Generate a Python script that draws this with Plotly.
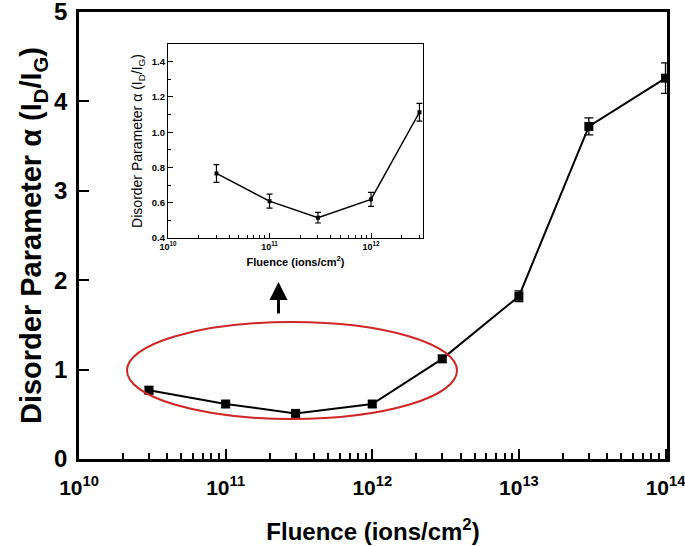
import plotly.graph_objects as go

# ---- data ----
fluence = [3e10, 1e11, 3e11, 1e12, 3e12, 1e13, 3e13, 1e14]
alpha = [0.77, 0.615, 0.51, 0.615, 1.12, 1.82, 3.72, 4.26]
alpha_err = [0.04, 0.035, 0.03, 0.035, 0.04, 0.06, 0.095, 0.17]

inset_fluence = [3e10, 1e11, 3e11, 1e12, 3e12]
inset_alpha = [0.766, 0.609, 0.515, 0.619, 1.113]
inset_err = [0.05, 0.04, 0.03, 0.04, 0.05]

main_xticks = [1e10, 1e11, 1e12, 1e13, 1e14]
main_xticktext = ["10<sup>10</sup>", "10<sup>11</sup>", "10<sup>12</sup>", "10<sup>13</sup>", "10<sup>14</sup>"]
main_yticks = [0, 1, 2, 3, 4, 5]
inset_xticks = [1e10, 1e11, 1e12]
inset_xticktext = ["10<sup>10</sup>", "10<sup>11</sup>", "10<sup>12</sup>"]
inset_yticks = [0.4, 0.6, 0.8, 1.0, 1.2, 1.4]
inset_yticktext = ["0.4", "0.6", "0.8", "1.0", "1.2", "1.4"]
inset_yminor = [0.5, 0.7, 0.9, 1.1, 1.3]

minor_main = [k * 10 ** e for e in range(10, 14) for k in range(2, 10)]
minor_inset = [k * 10 ** e for e in range(10, 13) for k in range(2, 10) if k * 10 ** e < 3.3e12]

FONT = "Liberation Sans"

fig = go.Figure()

fig.add_trace(go.Scatter(
    x=fluence, y=alpha, mode="lines+markers",
    line=dict(color="black", width=2),
    marker=dict(symbol="square", size=9, color="black"),
    error_y=dict(type="data", array=alpha_err, visible=True, color="black", thickness=1.3, width=4.5),
    cliponaxis=False, showlegend=False,
))

fig.add_trace(go.Scatter(
    x=inset_fluence, y=inset_alpha, mode="lines+markers",
    xaxis="x2", yaxis="y2",
    line=dict(color="black", width=1.5),
    marker=dict(symbol="square", size=4, color="black"),
    error_y=dict(type="data", array=inset_err, visible=True, color="black", thickness=1.2, width=3),
    cliponaxis=False, showlegend=False,
))

fig.update_layout(
    width=685, height=546,
    margin=dict(l=79, r=18, t=12, b=87),
    paper_bgcolor="white", plot_bgcolor="white",
    font=dict(family=FONT, color="black"),
    xaxis=dict(
        type="log", range=[10, 14.01], automargin=False, ticklabeloverflow="allow",
        tickvals=main_xticks, ticktext=main_xticktext, ticklabelstandoff=8,
        ticks="inside", ticklen=10, tickwidth=2, tickcolor="black",
        minor=dict(tickvals=minor_main, ticks="inside", ticklen=6, tickwidth=1.5, tickcolor="black"),
        showline=True, linecolor="black", linewidth=2.5, mirror=True,
        showgrid=False, zeroline=False,
        tickfont=dict(size=21, family=FONT, weight="bold"),
        title=dict(text="Fluence (ions/cm<sup>2</sup>)", font=dict(size=24, family=FONT, weight="bold"), standoff=26),
    ),
    yaxis=dict(
        range=[0, 5], tickvals=main_yticks, automargin=False, ticklabeloverflow="allow",
        ticklabelstandoff=4,
        ticks="inside", ticklen=10, tickwidth=2, tickcolor="black",
        showline=True, linecolor="black", linewidth=2.5, mirror=True,
        showgrid=False, zeroline=False,
        tickfont=dict(size=24, family=FONT, weight="bold"),
        title=dict(text="Disorder Parameter α (I<sub>D</sub>/I<sub>G</sub>)", font=dict(size=29, family=FONT, weight="bold"), standoff=4),
    ),
    xaxis2=dict(
        type="log", range=[10, 12.512], domain=[0.1514, 0.585], anchor="y2", automargin=False,
        tickvals=inset_xticks, ticktext=inset_xticktext,
        ticks="inside", ticklen=5, tickwidth=1, tickcolor="black",
        minor=dict(tickvals=minor_inset, ticks="inside", ticklen=3, tickwidth=1, tickcolor="black"),
        showline=True, linecolor="black", linewidth=1.2, mirror=True,
        showgrid=False, zeroline=False,
        tickfont=dict(size=9, family=FONT, weight="bold"),
        title=dict(text="Fluence (ions/cm<sup>2</sup>)", font=dict(size=11, family=FONT, weight="bold"), standoff=7),
    ),
    yaxis2=dict(
        range=[0.4, 1.5], domain=[0.4944, 0.9284], anchor="x2", automargin=False,
        tickvals=inset_yticks, ticktext=inset_yticktext,
        ticks="inside", ticklen=5, tickwidth=1, tickcolor="black",
        minor=dict(tickvals=inset_yminor, ticks="inside", ticklen=3, tickwidth=1, tickcolor="black"),
        showline=True, linecolor="black", linewidth=1.2, mirror=True,
        showgrid=False, zeroline=False,
        tickfont=dict(size=9.5, family=FONT, weight="bold"),
        title=dict(text="Disorder Parameter α (I<sub>D</sub>/I<sub>G</sub>)", font=dict(size=14, family=FONT), standoff=5),
    ),
    shapes=[
        dict(type="circle", xref="paper", yref="paper",
             x0=0.0816, x1=0.6429, y0=0.0895, y1=0.3065,
             line=dict(color="#d02525", width=2)),
    ],
    annotations=[
        dict(xref="paper", yref="paper", x=0.3393, y=0.396, ax=0, ay=33,
             axref="pixel", ayref="pixel", text="", showarrow=True,
             arrowhead=2, arrowsize=1.2, arrowwidth=3, arrowcolor="black"),
    ],
)

fig.write_html("out.html", config={"displayModeBar": False},
               post_script="document.body.style.margin='0';")
